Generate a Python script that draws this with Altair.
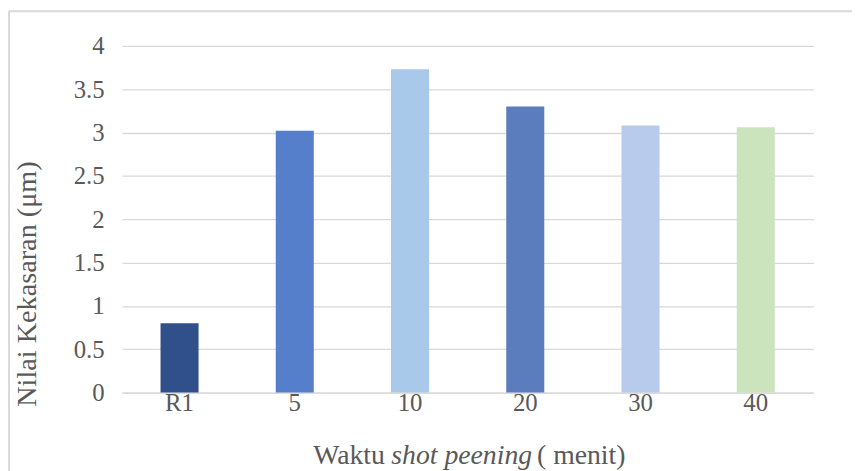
import altair as alt
import pandas as pd

categories = ["R1", "5", "10", "20", "30", "40"]
values = [0.80, 3.02, 3.73, 3.30, 3.08, 3.06]
bar_colors = ["#30508c", "#557ecb", "#a9c9ea", "#5b7cbd", "#b8cbed", "#cce4bd"]
y_ticks = [0, 0.5, 1, 1.5, 2, 2.5, 3, 3.5, 4]
x_title_parts = ["Waktu", "shot peening", "( menit)"]
y_title = "Nilai Kekasaran (μm)"

df = pd.DataFrame({"waktu": categories, "nilai": values})
one = pd.DataFrame({"k": [0]})

FONT = "Liberation Serif"
TXT = "#595959"
GRID = "#d9d9d9"
W, H = 698, 350

bars = alt.Chart(df).mark_bar().encode(
    x=alt.X(
        "waktu:N",
        sort=categories,
        scale=alt.Scale(paddingInner=0.67, paddingOuter=0.335),
        axis=alt.Axis(
            title=None,
            labelAngle=0,
            labelFont=FONT,
            labelFontSize=25,
            labelColor=TXT,
            labelPadding=-2,
            ticks=False,
            domainColor=GRID,
            domainWidth=1.3,
        ),
    ),
    y=alt.Y(
        "nilai:Q",
        scale=alt.Scale(domain=[0, 4], nice=False),
        axis=alt.Axis(
            title=y_title,
            values=y_ticks,
            format="~g",
            labelFont=FONT,
            labelFontSize=25,
            labelColor=TXT,
            labelPadding=18,
            ticks=False,
            domain=False,
            gridColor=GRID,
            gridWidth=1.3,
            titleFont=FONT,
            titleFontSize=28.5,
            titleFontWeight="normal",
            titleColor=TXT,
            titleAngle=-90,
            titleBaseline="middle",
            titleX=-96,
            titleY=240,
        ),
    ),
    color=alt.Color(
        "waktu:N",
        sort=categories,
        scale=alt.Scale(domain=categories, range=bar_colors),
        legend=None,
    ),
)

title_style = dict(font=FONT, fontSize=28, color=TXT, baseline="alphabetic")
t1 = alt.Chart(one).mark_text(text=x_title_parts[0], align="right", **title_style).encode(
    x=alt.value(265.5), y=alt.value(422)
)
t2 = alt.Chart(one).mark_text(text=x_title_parts[1], align="center", fontStyle="italic", **title_style).encode(
    x=alt.value(343), y=alt.value(422)
)
t3 = alt.Chart(one).mark_text(text=x_title_parts[2], align="left", **title_style).encode(
    x=alt.value(419), y=alt.value(422)
)

border_top = alt.Chart(one).mark_rule(color=GRID, strokeWidth=2).encode(
    x=alt.value(-114), x2=alt.value(W + 40), y=alt.value(-35)
)
border_left = alt.Chart(one).mark_rule(color=GRID, strokeWidth=2).encode(
    x=alt.value(-114), y=alt.value(-35), y2=alt.value(H + 80)
)

chart = (
    alt.layer(border_top, border_left, bars, t1, t2, t3)
    .properties(
        width=W,
        height=H,
        padding={"left": 115, "top": 36, "right": 39, "bottom": 77},
        autosize=alt.AutoSizeParams(type="none"),
    )
    .configure_view(stroke=None)
)

chart.save("out.html", embed_options={"renderer": "svg", "actions": False})
